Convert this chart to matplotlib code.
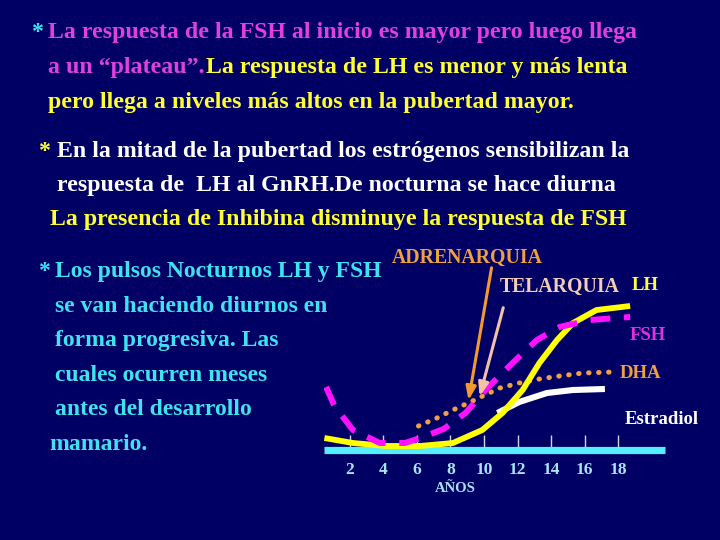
import numpy as np
import matplotlib
matplotlib.use("Agg")
import matplotlib.pyplot as plt

# curves (age in years, arbitrary level)
lh_age = [0.5, 2.2, 4.2, 6.2, 8.15, 9.9, 11.1, 12.3, 13.3, 14.35, 15.3, 16.7, 18.7]
lh_val = [1.2, 0.7, 0.4, 0.4, 0.7, 2.0, 3.7, 6.0, 8.7, 11.0, 12.7, 14.0, 14.4]

fsh_age = [0.6, 1.1, 2.2, 3.8, 5.3, 6.2, 7.6, 8.9, 10.2, 11.7, 13.15, 14.5, 16.3, 18.7]
fsh_val = [6.3, 4.4, 2.0, 0.7, 0.7, 1.2, 2.1, 3.7, 6.2, 8.7, 11.0, 12.3, 13.0, 13.3]

dha_age = [6.1, 7.2, 8.15, 9.2, 9.8, 10.95, 12.1, 13.3, 14.5, 15.9, 17.7]
dha_val = [2.4, 3.2, 4.0, 4.8, 5.3, 6.2, 6.7, 7.1, 7.4, 7.7, 7.8]

e2_age = [10.8, 12.1, 13.75, 15.3, 17.2]
e2_val = [3.7, 4.8, 5.7, 6.0, 6.1]

years = [2, 4, 6, 8, 10, 12, 14, 16, 18]

BG = "#000064"
MAG = "#e040e0"
YEL = "#ffff33"
CYAN = "#3fe3f0"
ORANGE = "#f0a040"

plt.rcParams['font.family'] = ['Liberation Serif', 'DejaVu Serif']
plt.rcParams['font.weight'] = 'bold'

fig = plt.figure(figsize=(7.2, 5.4), dpi=100, facecolor=BG)
W, H = 720.0, 540.0


def ftext(x, y, s, color, size, **kw):
    return fig.text(x / W, 1 - y / H, s, color=color, fontsize=size,
                    fontweight='bold', va='baseline', **kw)


# top paragraph
fs = 17.2
ftext(31, 38, "*", CYAN, fs)
ftext(48, 38, "La respuesta de la FSH al inicio es mayor pero luego llega", MAG, fs)
t = ftext(48, 73, "a un \u201cplateau\u201d.", MAG, fs)
fig.canvas.draw()
bb = t.get_window_extent()
ftext(bb.x1 + 1, 73, "La respuesta de LH es menor y más lenta", YEL, fs)
ftext(48, 108, "pero llega a niveles más altos en la pubertad mayor.", YEL, fs)

ftext(38, 157, "*", YEL, fs)
ftext(57, 157, "En la mitad de la pubertad los estrógenos sensibilizan la", "white", fs)
ftext(57, 191, "respuesta de  LH al GnRH.De nocturna se hace diurna", "white", fs)
ftext(50, 225, "La presencia de Inhibina disminuye la respuesta de FSH", YEL, fs)

# left block
fl = 17.0
ftext(38, 277, "*", CYAN, fl)
left_lines = ["Los pulsos Nocturnos LH y FSH", "se van haciendo diurnos en",
              "forma progresiva. Las", "cuales ocurren meses",
              "antes del desarrollo"]
for i, s in enumerate(left_lines):
    ftext(55, 277 + i * 34.6, s, CYAN, fl)
ftext(49, 450, "mamario.", CYAN, fl)

# chart
ax = fig.add_axes([324.4 / W, 90 / H, 341 / W, 200 / H])
ax.set_facecolor("none")
ax.set_xlim(0.5, 20.8)
ax.set_ylim(0, 20)
for sp in ax.spines.values():
    sp.set_visible(False)
ax.axhline(0, color="#55eeff", lw=5.2, zorder=2, clip_on=False,
           solid_capstyle='butt')
ax.set_yticks([])
ax.set_xticks(years)
ax.tick_params(axis='x', direction='in', length=11, width=1, color="#c8d8f0",
               pad=9, labelsize=12.5, labelcolor="#a8e4ff")
for lab in ax.get_xticklabels():
    lab.set_fontweight('bold')

ax.plot(e2_age, e2_val, color="white", lw=4.4, solid_capstyle='butt', zorder=3)
ax.plot(dha_age, dha_val, color=ORANGE, lw=3.6, linestyle=(0, (0.1, 1.9)),
        dash_capstyle='round', zorder=3)
ax.plot(lh_age, lh_val, color="#ffff00", lw=4.2, solid_capstyle='butt', zorder=4)
ax.plot(fsh_age, fsh_val, color="#ff10ff", lw=4.3, linestyle=(0, (3.3, 2.3)),
        zorder=5)

ax.annotate("", xy=(9.05, 4.7), xytext=(10.48, 18.5),
            arrowprops=dict(arrowstyle="-|>,head_length=0.8,head_width=0.3",
                            color="#f39a2c", lw=2.2), annotation_clip=False,
            zorder=6)
ax.annotate("", xy=(9.7, 5.1), xytext=(11.19, 14.5),
            arrowprops=dict(arrowstyle="-|>,head_length=0.8,head_width=0.3",
                            color="#f5c0a8", lw=2.2), annotation_clip=False,
            zorder=6)

ftext(392, 263, "ADRENARQUIA", ORANGE, 14.2)
ftext(500, 292, "TELARQUIA", "#f3cdb8", 14.2)
ftext(632, 290, "LH", "#ffff40", 13.5)
ftext(630, 340, "FSH", "#e030e0", 13.5)
ftext(620, 378, "DHA", ORANGE, 13.5)
ftext(625, 424, "Estradiol", "white", 13.5)
ftext(435, 492, "AÑOS", "#a8e4ff", 10.5)

fig.savefig("out.png", dpi=100, facecolor=BG)
